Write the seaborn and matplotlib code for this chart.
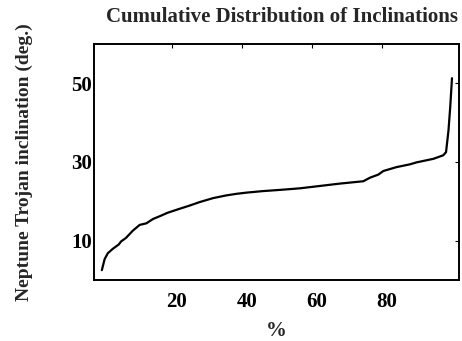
import seaborn as sns
import matplotlib
matplotlib.use("Agg")
import matplotlib.pyplot as plt
import matplotlib.transforms as mtransforms
import pandas as pd

# cumulative distribution
percent = [0.1, 0.9, 1.8, 3.2, 4.9, 5.6, 7.0, 8.9, 10.9, 12.8, 14.7, 16.6,
           18.9, 22.3, 25.1, 28.0, 31.8, 35.6, 38.5, 41.3, 46.1, 50.9, 56.6,
           62.3, 68.0, 74.7, 76.6, 79.0, 80.4, 84.2, 88.0, 89.9, 94.7, 97.5,
           98.3, 99.0, 99.5, 100.0]
inclination = [2.5, 5.3, 6.8, 7.9, 9.0, 9.8, 10.7, 12.5, 14.0, 14.4, 15.5, 16.2,
               17.1, 18.1, 18.9, 19.8, 20.8, 21.5, 21.9, 22.2, 22.6, 22.9, 23.3,
               23.9, 24.5, 25.1, 26.0, 26.8, 27.7, 28.7, 29.4, 29.9, 30.8, 31.7,
               32.5, 38.0, 44.0, 51.3]
xticks = [20, 40, 60, 80]
yticks = [10, 30, 50]

sns.set_style("white")
plt.rcParams["font.family"] = ["Liberation Serif", "DejaVu Serif"]
plt.rcParams["font.weight"] = "bold"

df = pd.DataFrame({"percent": percent, "inclination": inclination})

fig = plt.figure(figsize=(4.62, 3.41), dpi=100)
ax = fig.add_axes([0.2045, 0.179, 0.789, 0.692])

sns.lineplot(data=df, x="percent", y="inclination", color="black",
             linewidth=1.6, ax=ax, sort=False)

ax.set_xlim(-2, 102)
ax.set_ylim(0, 60)
ax.set_xticks(xticks)
ax.set_yticks(yticks)
ax.tick_params(direction="in", length=3, width=0.8, top=True, right=True,
               labelsize=15, colors="black")
ax.tick_params(axis="x", pad=9)
ax.tick_params(axis="y", pad=2)
shift = mtransforms.ScaledTranslation(5 / 100, 0, fig.dpi_scale_trans)
for lab in ax.get_xticklabels():
    lab.set_fontweight("bold")
    lab.set_transform(lab.get_transform() + shift)
for lab in ax.get_yticklabels():
    lab.set_fontweight("bold")
for sp in ax.spines.values():
    sp.set_color("black")
    sp.set_linewidth(1.4)

ax.set_xlabel("%", fontsize=15, fontweight="bold", labelpad=6)
ax.set_ylabel("Neptune Trojan inclination (deg.)", fontsize=14,
              fontweight="bold", labelpad=27)
ax.set_title("Cumulative Distribution of Inclinations", fontsize=15,
             fontweight="bold", pad=16, x=0.515)

fig.savefig("out.png", dpi=100)
